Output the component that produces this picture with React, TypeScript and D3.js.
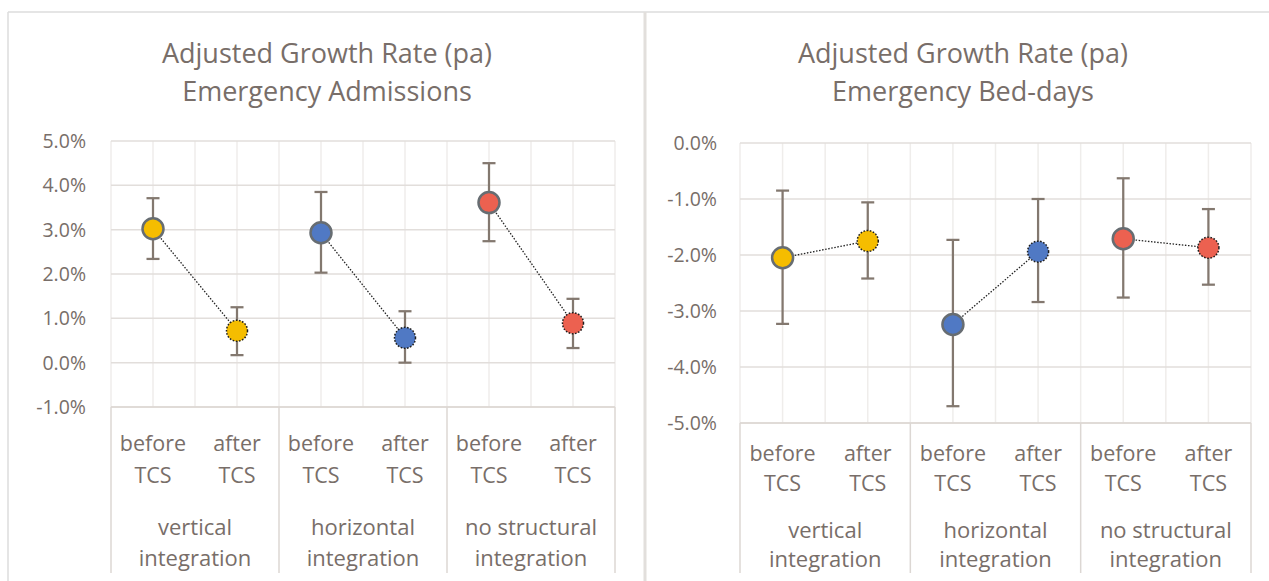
import React from "react";
import * as d3 from "d3";

// Categories
const groups = ["vertical integration", "horizontal integration", "no structural integration"];
const phases = ["before TCS", "after TCS"];
const groupLabelLines = [
  ["vertical", "integration"],
  ["horizontal", "integration"],
  ["no structural", "integration"],
];
const phaseLabelLines = [
  ["before", "TCS"],
  ["after", "TCS"],
];
const groupColors = ["#F5BD00", "#5079C4", "#EC6150"];

// Emergency admissions: adjusted growth rate (% pa) with interval bounds
const admissionsValue = [3.02, 0.72, 2.93, 0.56, 3.61, 0.89];
const admissionsLow = [2.34, 0.17, 2.03, 0.0, 2.74, 0.33];
const admissionsHigh = [3.71, 1.25, 3.85, 1.16, 4.5, 1.44];
const admissionsTicks = [-1, 0, 1, 2, 3, 4, 5];

// Emergency bed-days: adjusted growth rate (% pa) with interval bounds
const bedDaysValue = [-2.05, -1.75, -3.24, -1.94, -1.71, -1.87];
const bedDaysLow = [-3.23, -2.42, -4.7, -2.84, -2.76, -2.53];
const bedDaysHigh = [-0.85, -1.06, -1.73, -1.0, -0.63, -1.18];
const bedDaysTicks = [-5, -4, -3, -2, -1, 0];

const TEXT = "#786e69";
const FONT = "'Open Sans', 'Noto Sans', sans-serif";
const GRID_MAJOR = "#e2dedb";
const GRID_MINOR = "#efedeb";
const ERR = "#83786f";

type PanelProps = {
  title: string[];
  values: number[];
  low: number[];
  high: number[];
  ticks: number[];
  x0: number;
  x1: number;
  yTop: number;
  yBottom: number;
  titleX: number;
  catBaselines: number[];
  tickRight: number;
};

// percent label with an ASCII hyphen for negatives
const fmtPct = (v: number) => d3.format(".1f")(v).replace("\u2212", "-") + "%";

function Panel(p: PanelProps) {
  const keys = groups.flatMap((g) => phases.map((ph) => `${g}|${ph}`));
  const x = d3.scaleBand<string>().domain(keys).range([p.x0, p.x1]).padding(0);
  const bw = x.bandwidth();
  const cx = (i: number) => (x(keys[i]) as number) + bw / 2;
  const y = d3
    .scaleLinear()
    .domain([d3.min(p.ticks) as number, d3.max(p.ticks) as number])
    .range([p.yBottom, p.yTop]);
  const halfSteps = d3.range(0, keys.length * 2 + 1).map((k) => p.x0 + (k * bw) / 2);
  const groupEdges = d3.range(0, groups.length + 1).map((k) => p.x0 + k * bw * 2);

  return (
    <g fontFamily={FONT} fill={TEXT}>
      {p.title.map((t, i) => (
        <text key={t} x={p.titleX} y={63 + i * 38} textAnchor="middle" fontSize={27}>
          {t}
        </text>
      ))}
      {/* vertical gridlines at category edges and centres */}
      {halfSteps.map((hx, k) => (
        <line key={`v${k}`} x1={hx} x2={hx} y1={p.yTop} y2={p.yBottom} stroke={GRID_MINOR} strokeWidth={1.5} />
      ))}
      {/* horizontal gridlines */}
      {p.ticks.map((t) => (
        <line key={`h${t}`} x1={p.x0} x2={p.x1} y1={y(t)} y2={y(t)} stroke={GRID_MAJOR} strokeWidth={1.5} />
      ))}
      {p.ticks.map((t) => (
        <text key={`t${t}`} x={p.tickRight} y={y(t)} dy="0.36em" textAnchor="end" fontSize={19.5}>
          {fmtPct(t)}
        </text>
      ))}
      {/* category axis */}
      <line x1={p.x0} x2={p.x1} y1={p.yBottom} y2={p.yBottom} stroke="#dcd7d3" strokeWidth={1.5} />
      {groupEdges.map((gx, k) => (
        <line key={`g${k}`} x1={gx} x2={gx} y1={p.yBottom} y2={573} stroke="#dcd7d3" strokeWidth={1.5} />
      ))}
      {keys.map((k, i) =>
        phaseLabelLines[i % 2].map((s, j) => (
          <text key={`${k}${j}`} x={cx(i)} y={p.catBaselines[j]} textAnchor="middle" fontSize={21.5}>
            {s}
          </text>
        ))
      )}
      {groups.map((g, gi) =>
        groupLabelLines[gi].map((s, j) => (
          <text
            key={`${g}${j}`}
            x={(groupEdges[gi] + groupEdges[gi + 1]) / 2}
            y={p.catBaselines[2 + j]}
            textAnchor="middle"
            fontSize={22}
          >
            {s}
          </text>
        ))
      )}
      {/* dotted links between before and after */}
      {groups.map((g, gi) => {
        const a = gi * 2;
        const b = gi * 2 + 1;
        return (
          <line
            key={`l${g}`}
            x1={cx(a)}
            y1={y(p.values[a])}
            x2={cx(b)}
            y2={y(p.values[b])}
            stroke="#222"
            strokeWidth={1.3}
            strokeDasharray="1.5 1.6"
          />
        );
      })}
      {/* interval bars */}
      {keys.map((k, i) => (
        <g key={`e${k}`} stroke={ERR} strokeWidth={2.25}>
          <line x1={cx(i)} x2={cx(i)} y1={y(p.low[i])} y2={y(p.high[i])} />
          <line x1={cx(i) - 6.5} x2={cx(i) + 6.5} y1={y(p.low[i])} y2={y(p.low[i])} />
          <line x1={cx(i) - 6.5} x2={cx(i) + 6.5} y1={y(p.high[i])} y2={y(p.high[i])} />
        </g>
      ))}
      {/* markers */}
      {keys.map((k, i) => {
        const after = i % 2 === 1;
        return (
          <circle
            key={`m${k}`}
            cx={cx(i)}
            cy={y(p.values[i])}
            r={10.5}
            fill={groupColors[Math.floor(i / 2)]}
            stroke={after ? "#1e1e1e" : "#676d72"}
            strokeWidth={after ? 1.5 : 2.5}
            strokeDasharray={after ? "1.6 1.6" : undefined}
          />
        );
      })}
    </g>
  );
}

export default function App() {
  return (
    <svg
      width={1269}
      height={581}
      style={{ position: "absolute", left: 0, top: 0, background: "#fff" }}
    >
      <rect x={0} y={0} width={1269} height={581} fill="#fff" />
      {/* panel frames */}
      <line x1={8} x2={1269} y1={12} y2={12} stroke="#dcdcdc" strokeWidth={1.5} />
      <line x1={8} x2={8} y1={12} y2={581} stroke="#dcdcdc" strokeWidth={1.5} />
      <line x1={645} x2={645} y1={12} y2={581} stroke="#e2dfdc" strokeWidth={3} />
      <Panel
        title={["Adjusted Growth Rate (pa)", "Emergency Admissions"]}
        values={admissionsValue}
        low={admissionsLow}
        high={admissionsHigh}
        ticks={admissionsTicks}
        x0={111}
        x1={615}
        yTop={141}
        yBottom={407}
        titleX={327}
        catBaselines={[451, 483, 535, 566]}
        tickRight={86}
      />
      <Panel
        title={["Adjusted Growth Rate (pa)", "Emergency Bed-days"]}
        values={bedDaysValue}
        low={bedDaysLow}
        high={bedDaysHigh}
        ticks={bedDaysTicks}
        x0={740}
        x1={1251}
        yTop={143}
        yBottom={423}
        titleX={963}
        catBaselines={[461, 491, 538, 567]}
        tickRight={717}
      />
    </svg>
  );
}
